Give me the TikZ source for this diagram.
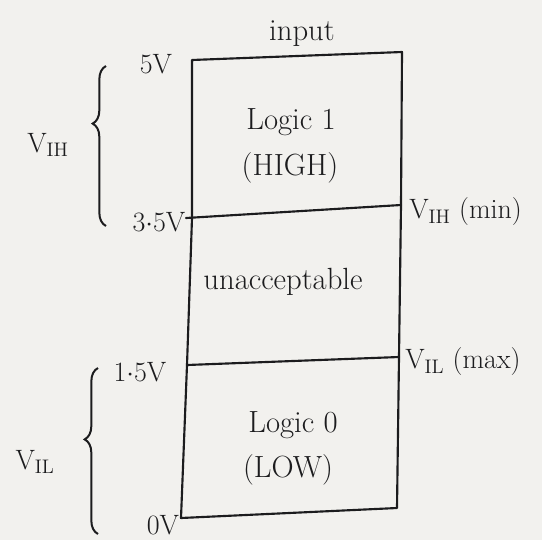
\documentclass[tikz,border=0pt]{standalone}
\usetikzlibrary{decorations.pathreplacing}
\definecolor{paper}{RGB}{242,241,238}
\definecolor{ink}{RGB}{28,28,30}
\begin{document}
\begin{tikzpicture}[x=0.75pt,y=-0.75pt,
  inkline/.style={draw=ink,line width=1.6pt,line cap=round,line join=round},
  bigtext/.style={text=ink,font=\fontsize{23}{26}\selectfont,inner sep=0pt},
  lbltext/.style={text=ink,font=\fontsize{21}{24}\selectfont,inner sep=0pt},
  bracestyle/.style={draw=ink,line width=1.5pt,decorate,decoration={brace,amplitude=10pt,aspect=#1}}]
\fill[paper] (0,0) rectangle (542,540);
\useasboundingbox (0,0) rectangle (542,540);
% box corners
\coordinate (tl) at (192,60);
\coordinate (tr) at (402,52);
\coordinate (hl) at (192,218);
\coordinate (hr) at (401,205);
\coordinate (ll) at (187,365);
\coordinate (lr) at (399,357);
\coordinate (bl) at (181,518);
\coordinate (br) at (397,508);
\coordinate (hlt) at (186,218);
\draw[inkline] (tl) -- (tr) -- (hr) -- (lr) -- (br) -- (bl) -- (ll) -- (hl) -- (tl);
\draw[inkline] (hlt) -- (hr);
\draw[inkline] (ll) -- (lr);
% texts
\node[bigtext] (input) at (302,34) {input};
\node[bigtext] (l1) at (291,122) {Logic 1};
\node[bigtext] (high) at (290,168) {(HIGH)};
\node[bigtext] (unacc) at (283,282) {unacceptable};
\node[bigtext] (l0) at (293,425) {Logic 0};
\node[bigtext] (low) at (288,470) {(LOW)};
\node[lbltext] (v5) at (156,64) {5V};
\node[lbltext] (v35) at (159,222) {3$\cdot$5V};
\node[lbltext] (v15) at (140,372) {1$\cdot$5V};
\node[lbltext] (v0) at (163,525) {0V};
\node[lbltext,anchor=west] (vihmin) at (409,212) {V\textsubscript{IH} (min)};
\node[lbltext,anchor=west] (vilmax) at (405,362) {V\textsubscript{IL} (max)};
\node[lbltext] (vih) at (48,145) {V\textsubscript{IH}};
\node[lbltext] (vil) at (35,462) {V\textsubscript{IL}};
% braces
\coordinate (bihb) at (106,226);
\coordinate (biht) at (106,66);
\coordinate (bilb) at (98,534);
\coordinate (bilt) at (98,368);
\draw[bracestyle=0.64] (bihb) -- (biht);
\draw[bracestyle=0.57] (bilb) -- (bilt);
\end{tikzpicture}
\end{document}
